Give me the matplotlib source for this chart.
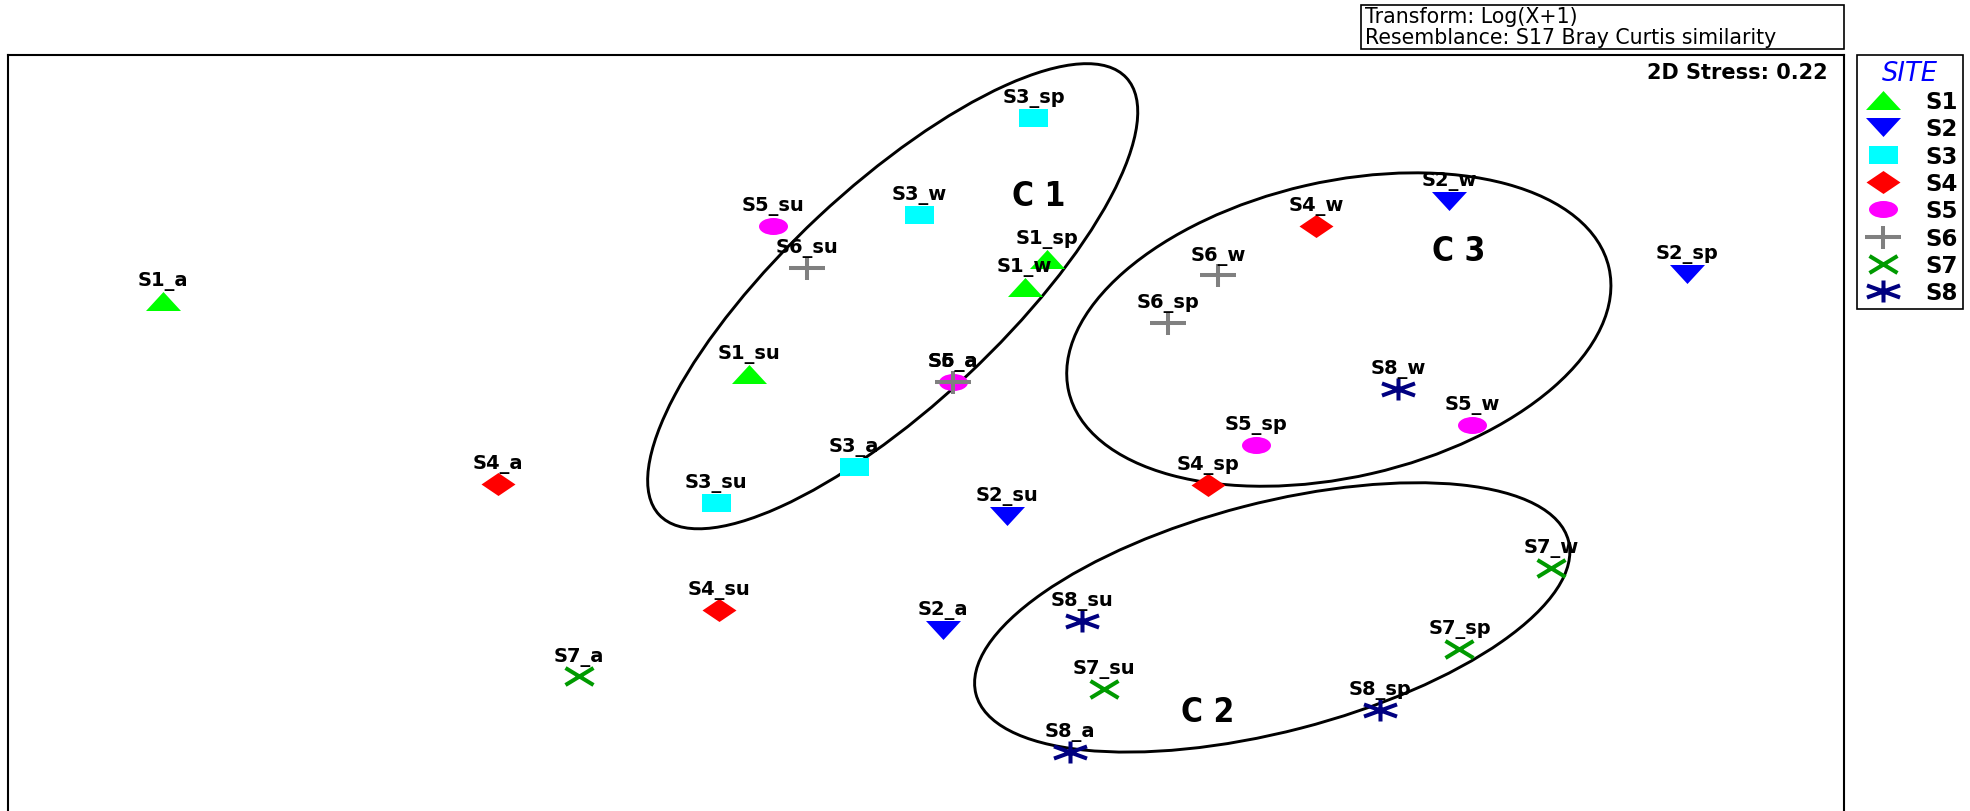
import numpy as np
import matplotlib
matplotlib.use("Agg")
import matplotlib.pyplot as plt
from matplotlib.path import Path
from matplotlib.patches import Ellipse, Rectangle
from matplotlib.lines import Line2D

plt.rcParams['font.family'] = ['DejaVu Sans']

# nMDS: coordenadas (orden de estaciones: a, su, w, sp)
sitios = ["S1", "S2", "S3", "S4", "S5", "S6", "S7", "S8"]
estaciones = ["a", "su", "w", "sp"]

x_S1 = [1.23, 5.90, 8.09, 8.27]
y_S1 = [4.06, 3.48, 4.17, 4.39]
x_S2 = [7.44, 7.95, 11.47, 13.36]
y_S2 = [1.44, 2.35, 4.85, 4.27]
x_S3 = [6.73, 5.63, 7.25, 8.16]
y_S3 = [2.74, 2.45, 4.74, 5.51]
x_S4 = [3.90, 5.66, 10.41, 9.55]
y_S4 = [2.60, 1.60, 4.65, 2.59]
x_S5 = [7.52, 6.09, 11.65, 9.93]
y_S5 = [3.41, 4.65, 3.07, 2.91]
x_S6 = [7.52, 6.36, 9.63, 9.23]
y_S6 = [3.41, 4.32, 4.26, 3.88]
x_S7 = [4.54, 8.72, 12.28, 11.55]
y_S7 = [1.07, 0.97, 1.93, 1.29]
x_S8 = [8.45, 8.55, 11.06, 10.92]
y_S8 = [0.47, 1.51, 3.36, 0.80]

xs = [x_S1, x_S2, x_S3, x_S4, x_S5, x_S6, x_S7, x_S8]
ys = [y_S1, y_S2, y_S3, y_S4, y_S5, y_S6, y_S7, y_S8]

# grupos (elipses): centro x, centro y, ancho, alto, angulo
grupos = ["C 1", "C 2", "C 3"]
elip_cx = [7.04, 10.06, 10.59]
elip_cy = [4.095, 1.54, 3.83]
elip_w = [5.09, 4.87, 4.41]
elip_h = [1.73, 1.82, 2.35]
elip_ang = [43.1, 14.5, 12.9]
grupo_x = [8.20, 9.55, 11.54]
grupo_y = [4.90, 0.79, 4.46]

colores = ["#00FF00", "#0000FF", "#00FFFF", "#FF0000", "#FF00FF", "#808080", "#009A00", "#000080"]


def marca(tipo, w, h):
    r = h / w
    M, L = Path.MOVETO, Path.LINETO
    if tipo == "tri_up":
        return Path([(-1, -r), (1, -r), (0, r), (-1, -r)], closed=True)
    if tipo == "tri_down":
        return Path([(-1, r), (1, r), (0, -r), (-1, r)], closed=True)
    if tipo == "square":
        return Path([(-1, -r), (1, -r), (1, r), (-1, r), (-1, -r)], closed=True)
    if tipo == "diamond":
        return Path([(-1, 0), (0, -r), (1, 0), (0, r), (-1, 0)], closed=True)
    if tipo == "circle":
        c = Path.unit_circle()
        return Path(c.vertices * [1, r], c.codes)
    if tipo == "plus":
        return Path([(-1, 0), (1, 0), (0, -r), (0, r)], [M, L, M, L])
    if tipo == "x":
        return Path([(-1, -r), (1, r), (-1, r), (1, -r)], [M, L, M, L])
    if tipo == "star":
        d = 0.55 * r
        return Path([(0, -r), (0, r), (-1, -d), (1, d), (-1, d), (1, -d)], [M, L, M, L, M, L])


# tipo, ancho px, alto px, relleno
estilos = [("tri_up", 35, 19, True), ("tri_down", 35, 19, True), ("square", 29, 18, True),
           ("diamond", 34, 23, True), ("circle", 29, 17, True), ("plus", 36, 23, False),
           ("x", 28, 17, False), ("star", 33, 22, False)]


def kw_marca(i):
    tipo, w, h, lleno = estilos[i]
    k = dict(ls="none", marker=marca(tipo, w, h), ms=w * 0.72)
    if lleno:
        k.update(mfc=colores[i], mec=colores[i], mew=0)
    else:
        k.update(mfc="none", mec=colores[i], mew=2.9)
    return k


fig = plt.figure(figsize=(19.7, 8.12), dpi=100)
ax = fig.add_axes([8 / 1970, 0, 1836 / 1970, 756 / 812])
ax.set_xlim(0, 14.61)
ax.set_ylim(0, 6.014)
ax.set_xticks([])
ax.set_yticks([])
for s in ["left", "top", "right"]:
    ax.spines[s].set_linewidth(1.5)
ax.spines["bottom"].set_visible(False)

for i in range(len(sitios)):
    ax.plot(xs[i], ys[i], **kw_marca(i))
    for j in range(len(estaciones)):
        ax.annotate(sitios[i] + "_" + estaciones[j], (xs[i][j], ys[i][j]), xytext=(0, 11.5),
                    textcoords="offset points", ha="center", va="baseline",
                    fontsize=14, fontweight="bold")

for k in range(len(grupos)):
    ax.add_patch(Ellipse((elip_cx[k], elip_cy[k]), elip_w[k], elip_h[k], angle=elip_ang[k],
                         fill=False, ec="black", lw=2.1))
    ax.text(grupo_x[k], grupo_y[k], grupos[k], ha="center", va="center", fontsize=24,
            fontweight="bold", fontstretch="condensed")

ax.text(0.991, 0.9775, "2D Stress: 0.22", transform=ax.transAxes, ha="right", va="center",
        fontsize=15, fontweight="bold")

# leyenda
handles = [Line2D([], [], **kw_marca(i)) for i in range(len(sitios))]
leg = ax.legend(handles, sitios, loc="upper left", bbox_to_anchor=(1857 / 1970, 1 - 56 / 812),
                bbox_transform=fig.transFigure, borderaxespad=0, title="SITE", frameon=True,
                fancybox=False, edgecolor="black", framealpha=1, borderpad=0.2,
                labelspacing=0.19, handlelength=1.9, handletextpad=0.9, numpoints=1,
                prop=dict(weight="bold", size=16.5), title_fontproperties=dict(style="italic", size=18.5))
leg.get_title().set_color("blue")
leg.get_frame().set_linewidth(1.2)

# cuadro de transformacion
fig.add_artist(Rectangle((1361 / 1970, 1 - 50 / 812), 483 / 1970, 44 / 812, transform=fig.transFigure,
                         fill=False, ec="black", lw=1.2))
fig.text(1365 / 1970, 1 - 23 / 812, "Transform: Log(X+1)", ha="left", va="baseline", fontsize=14.8)
fig.text(1365 / 1970, 1 - 44.5 / 812, "Resemblance: S17 Bray Curtis similarity", ha="left", va="baseline",
         fontsize=14.8)

fig.savefig("out.png", dpi=100)
